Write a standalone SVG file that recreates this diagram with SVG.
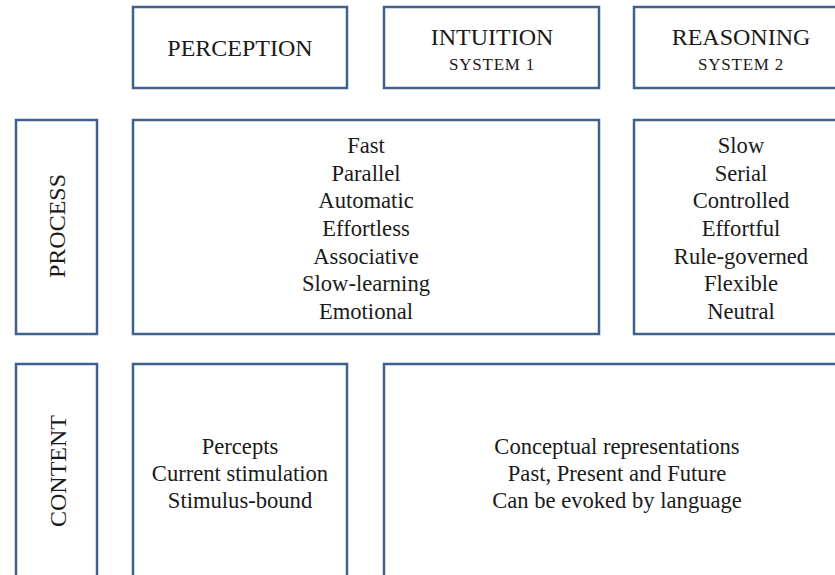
<svg xmlns="http://www.w3.org/2000/svg" width="835" height="575" viewBox="0 0 835 575">
<style>
.box{fill:#ffffff;stroke:#40618d;stroke-width:2.5}
text{font-family:"Liberation Serif","Times New Roman",serif;fill:#1a1a1a;text-anchor:middle}
.h{font-size:24px}
.s{font-size:17px;letter-spacing:0.8px}
.b{font-size:22.6px}
</style>
<rect width="835" height="575" fill="#ffffff"/>
<g id="perception">
<rect class="box" x="133" y="7" width="214" height="81"/>
<text class="h" x="240" y="56">PERCEPTION</text>
</g>
<g id="intuition">
<rect class="box" x="384" y="7" width="215" height="81"/>
<text class="h" x="492" y="45">INTUITION</text>
<text class="s" x="492" y="70">SYSTEM 1</text>
</g>
<g id="reasoning">
<rect class="box" x="634" y="7" width="215" height="81"/>
<text class="h" x="741" y="45">REASONING</text>
<text class="s" x="741" y="70">SYSTEM 2</text>
</g>
<g id="process">
<rect class="box" x="16" y="120" width="81" height="214"/>
<text class="h" transform="translate(65,226) rotate(-90)">PROCESS</text>
</g>
<g id="process-intuition">
<rect class="box" x="133" y="120" width="466" height="214"/>
<text class="b" x="366" y="153">Fast</text>
<text class="b" x="366" y="181">Parallel</text>
<text class="b" x="366" y="208">Automatic</text>
<text class="b" x="366" y="236">Effortless</text>
<text class="b" x="366" y="264">Associative</text>
<text class="b" x="366" y="291">Slow-learning</text>
<text class="b" x="366" y="319">Emotional</text>
</g>
<g id="process-reasoning">
<rect class="box" x="634" y="120" width="215" height="214"/>
<text class="b" x="741" y="153">Slow</text>
<text class="b" x="741" y="181">Serial</text>
<text class="b" x="741" y="208">Controlled</text>
<text class="b" x="741" y="236">Effortful</text>
<text class="b" x="741" y="264">Rule-governed</text>
<text class="b" x="741" y="291">Flexible</text>
<text class="b" x="741" y="319">Neutral</text>
</g>
<g id="content">
<rect class="box" x="16" y="364" width="81" height="230"/>
<text class="h" transform="translate(66,471) rotate(-90)">CONTENT</text>
</g>
<g id="content-perception">
<rect class="box" x="133" y="364" width="214" height="230"/>
<text class="b" x="240" y="454">Percepts</text>
<text class="b" x="240" y="481">Current stimulation</text>
<text class="b" x="240" y="508">Stimulus-bound</text>
</g>
<g id="content-conceptual">
<rect class="box" x="384" y="364" width="466" height="230"/>
<text class="b" x="617" y="454">Conceptual representations</text>
<text class="b" x="617" y="481">Past, Present and Future</text>
<text class="b" x="617" y="508">Can be evoked by language</text>
</g>
<g id="connectors"></g>
</svg>
